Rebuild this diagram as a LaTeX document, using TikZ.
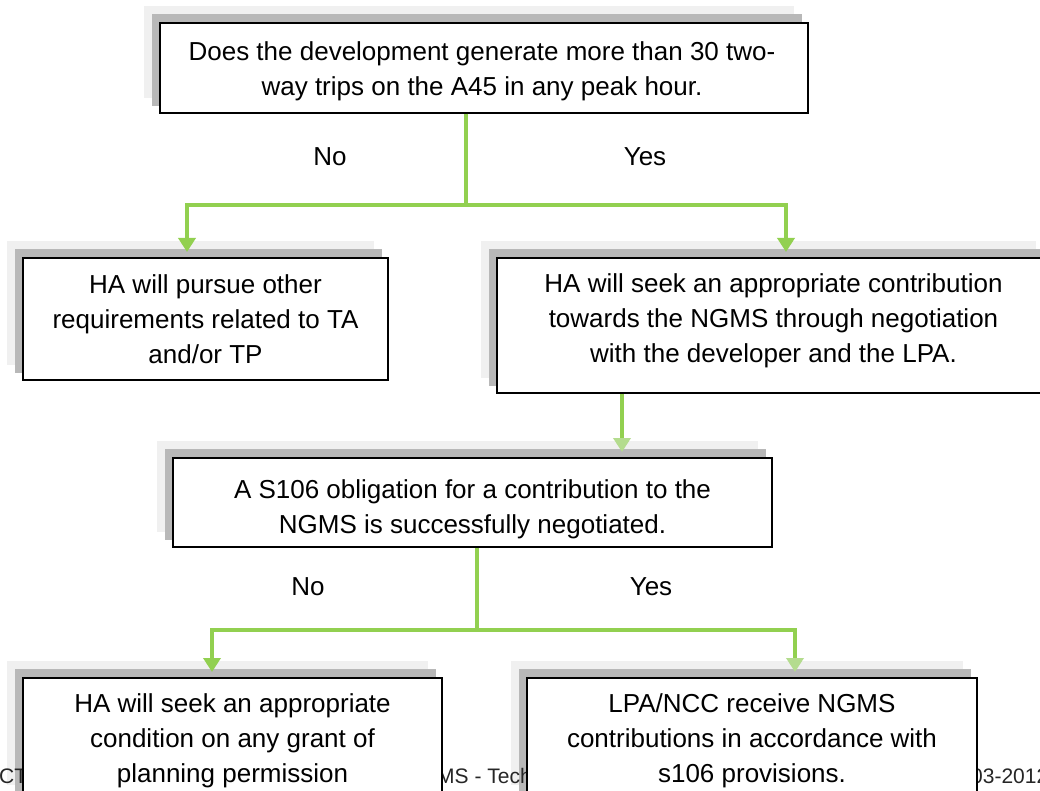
\documentclass[tikz,border=0pt]{standalone}
\usepackage{fontspec}
\setmainfont{Liberation Sans}
\usetikzlibrary{arrows.meta,calc}
\pgfdeclarelayer{shade}
\pgfdeclarelayer{foot}
\pgfsetlayers{shade,foot,main}
\definecolor{flowgreen}{HTML}{92D050}
\definecolor{tipgreen}{HTML}{B4DC8E}
\definecolor{shadelight}{HTML}{F0F0F0}
\definecolor{shadedark}{HTML}{B8B8B8}
\begin{document}
\begin{tikzpicture}[x=1pt,y=-1pt,
  box/.style={draw=black, line width=2pt, fill=white, inner sep=0pt},
  txt/.style={align=center, inner sep=0pt, font=\fontsize{26}{35}\selectfont},
  lbl/.style={font=\fontsize{26}{35}\selectfont, inner sep=0pt},
  foot/.style={font=\fontsize{21}{24}\selectfont, text=black!85, inner sep=0pt, anchor=base west},
  flow/.style={draw=flowgreen, line width=3.5pt},
  tipA/.style={-{Triangle[width=17pt,length=14pt,color=flowgreen]}, shorten >=5pt},
  tipB/.style={-{Triangle[width=17pt,length=14pt,color=tipgreen]}, shorten >=5pt}]
\clip (0,0) rectangle (1040,791);

\node[box, minimum width=648pt, minimum height=90pt] (t) at (484,68) {};
\node[txt] (tt) at (482,71)
  {Does the development generate more than 30 two-\\way trips on the A45 in any peak hour.};
\node[box, minimum width=365pt, minimum height=122pt] (a) at (205.5,319) {};
\node[txt] (at) at (205.5,319)
  {HA will pursue other\\requirements related to TA\\and/or TP};
\node[box, minimum width=553pt, minimum height=135pt] (b) at (773.5,325.5) {};
\node[txt] (bt) at (773.5,320.5)
  {HA will seek an appropriate contribution\\towards the NGMS through negotiation\\with the developer and the LPA.};
\node[box, minimum width=599pt, minimum height=89pt] (c) at (472.5,502.5) {};
\node[txt] (ct) at (472.5,509)
  {A S106 obligation for a contribution to the\\NGMS is successfully negotiated.};
\node[box, minimum width=419pt, minimum height=122pt] (d) at (232.5,739) {};
\node[txt] (dt) at (232.5,741)
  {HA will seek an appropriate\\condition on any grant of\\planning permission};
\node[box, minimum width=450pt, minimum height=122pt] (e) at (752,739) {};
\node[txt] (et) at (752,741)
  {LPA/NCC receive NGMS\\contributions in accordance with\\s106 provisions.};

\begin{pgfonlayer}{shade}
\fill[white] (0,0) rectangle (1040,791);
\foreach \n in {t,a,b,c,d,e}{
  \fill[shadelight] ($(\n.north west)+(-15,-16)$) rectangle ($(\n.south east)+(-15,-16)$);
  \fill[shadedark] ($(\n.north west)+(-7,-8)$) rectangle ($(\n.south east)+(-7,-8)$);
}
\end{pgfonlayer}

\begin{pgfonlayer}{foot}
\node[foot] (f1) at (-1,783) {CT};
\node[foot] (f2) at (437,783) {MS - Tech};
\node[foot] (f3) at (971,783) {03-2012};
\end{pgfonlayer}

\coordinate (j1) at (466,205);
\draw[flow, tipA] (t.south -| j1) -- (j1) -| (a.north -| 187,0);
\draw[flow, tipA] (t.south -| j1) -- (j1) -| (b.north -| 786,0);
\draw[flow, tipB] (b.south -| 622,0) -- (c.north -| 622,0);
\coordinate (j2) at (477,630);
\draw[flow, tipA] (c.south -| j2) -- (j2) -| (d.north -| 212,0);
\draw[flow, tipB] (c.south -| j2) -- (j2) -| (e.north -| 795,0);

\node[lbl] (no1) at (330,157) {No};
\node[lbl] (yes1) at (645,157) {Yes};
\node[lbl] (no2) at (308,587) {No};
\node[lbl] (yes2) at (651,587) {Yes};
\end{tikzpicture}
\end{document}
